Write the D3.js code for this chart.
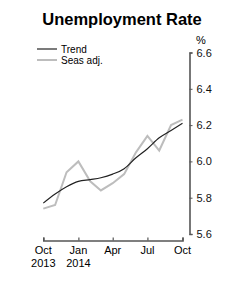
<!DOCTYPE html>
<html>
<head>
<meta charset="utf-8">
<script src="https://cdn.jsdelivr.net/npm/d3@7/dist/d3.min.js"></script>
<style>
  body { margin: 0; background: #fff; }
</style>
</head>
<body>
<svg id="chart"></svg>
<script>
// monthly, Oct 2013 .. Oct 2014
const months = ["2013-10","2013-11","2013-12","2014-01","2014-02","2014-03","2014-04",
                "2014-05","2014-06","2014-07","2014-08","2014-09","2014-10"];
const trend   = [5.77, 5.82, 5.86, 5.89, 5.90, 5.91, 5.93, 5.96, 6.02, 6.07, 6.13, 6.17, 6.21];
const seasAdj = [5.74, 5.76, 5.94, 6.00, 5.89, 5.84, 5.88, 5.93, 6.05, 6.14, 6.06, 6.20, 6.23];
const xTicks = ["2013-10","2014-01","2014-04","2014-07","2014-10"];
const xTickTop = ["Oct","Jan","Apr","Jul","Oct"];
const xTickBottom = ["2013","2014","","",""];
const yTicks = [5.6, 5.8, 6.0, 6.2, 6.4, 6.6];

const W = 245, H = 300;
const narrow = "'Liberation Sans Narrow', 'Arial Narrow', 'Liberation Sans', Arial, sans-serif";
const parse = d3.timeParse("%Y-%m");

const svg = d3.select("#chart").attr("width", W).attr("height", H);

// title
svg.append("text")
  .attr("x", 122).attr("y", 25)
  .attr("text-anchor", "middle")
  .style("font-family", "'Liberation Sans', Arial, sans-serif")
  .style("font-weight", "bold")
  .style("font-size", "16.5px")
  .text("Unemployment Rate");

const x = d3.scaleTime()
  .domain([parse(months[0]), parse(months[months.length - 1])])
  .range([43.3, 182.5]);
const y = d3.scaleLinear().domain([5.6, 6.6]).range([234, 52.5]);

// y axis on the right, ticks pointing to labels
const yAxis = svg.append("g")
  .attr("transform", "translate(189.5,0)")
  .call(d3.axisRight(y).tickValues(yTicks).tickFormat(d3.format(".1f")).tickSize(3).tickPadding(4));
yAxis.select(".domain").attr("stroke", "#555").attr("stroke-width", 1.6);
yAxis.selectAll(".tick line").attr("stroke", "#555");
yAxis.selectAll(".tick text")
  .style("font-family", narrow).style("font-size", "11px").attr("fill", "#111");

svg.append("text")
  .attr("x", 196).attr("y", 44)
  .style("font-family", narrow).style("font-size", "11px")
  .text("%");

// x axis
const xAxis = svg.append("g")
  .attr("transform", "translate(0,240.5)")
  .call(d3.axisTop(x).tickValues(xTicks.map(parse)).tickFormat("").tickSizeOuter(0).tickSize(3));
xAxis.select(".domain").attr("stroke", "#555").attr("stroke-width", 1.6);
xAxis.selectAll(".tick line").attr("stroke", "#555").attr("stroke-width", 1.2);

const xl = svg.append("g")
  .selectAll("g")
  .data(xTicks)
  .join("g")
  .attr("transform", d => `translate(${x(parse(d))},0)`)
  .style("font-family", narrow).style("font-size", "11px")
  .attr("text-anchor", "middle");
xl.append("text").attr("y", 254).text((d, i) => xTickTop[i]);
xl.append("text").attr("y", 267).text((d, i) => xTickBottom[i]);

// lines
const line = d3.line()
  .x((d, i) => x(parse(months[i])))
  .y(d => y(d));

svg.append("path")
  .datum(seasAdj)
  .attr("d", line)
  .attr("fill", "none")
  .attr("stroke", "#bdbdbd")
  .attr("stroke-width", 2);

svg.append("path")
  .datum(trend)
  .attr("d", line.curve(d3.curveMonotoneX))
  .attr("fill", "none")
  .attr("stroke", "#222")
  .attr("stroke-width", 1.2);

// legend
const legendData = [
  { name: "Trend", color: "#222", width: 1.2 },
  { name: "Seas adj.", color: "#bdbdbd", width: 2 }
];
const lg = svg.append("g").selectAll("g")
  .data(legendData)
  .join("g")
  .attr("transform", (d, i) => `translate(37,${49 + i * 11})`);
lg.append("line")
  .attr("x1", 0).attr("x2", 20)
  .attr("stroke", d => d.color).attr("stroke-width", d => d.width);
lg.append("text")
  .attr("x", 24).attr("y", 3.5)
  .style("font-family", narrow).style("font-size", "10px")
  .text(d => d.name);
</script>
</body>
</html>
